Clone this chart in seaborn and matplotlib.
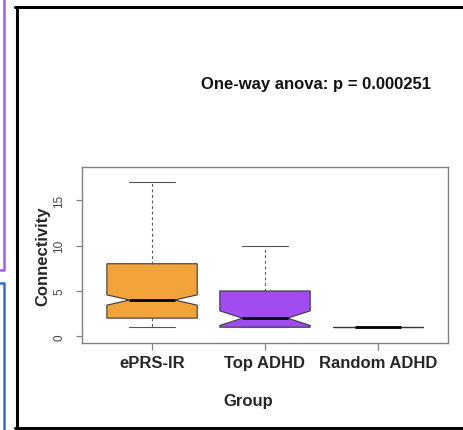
import numpy as np
import pandas as pd
import seaborn as sns
from matplotlib import pyplot as plt
from matplotlib.lines import Line2D

# groups on the x axis
groups = ['ePRS-IR', 'Top ADHD', 'Random ADHD']
box_colors = ['#F2A33A', '#A04CF0', '#BBBBBB']

# connectivity values and how often each occurs, per group
eprs_values = [1, 2, 3, 4, 5, 6, 7, 8, 9, 10, 11, 12, 13, 14, 15, 16, 17]
eprs_counts = [40, 50, 30, 40, 20, 15, 8, 12, 12, 10, 8, 7, 6, 5, 4, 3, 3]
top_values = [1, 2, 3, 4, 5, 6, 7, 8, 9, 10]
top_counts = [20, 14, 6, 5, 4, 3, 3, 2, 2, 2]
random_values = [1]
random_counts = [20]

anova_text = 'One-way anova: p = 0.000251'

W, H = 464, 431


def fx(px):
    return px / W


def fy(py):
    return 1 - py / H


def build_frame():
    rows = []
    for name, vals, cnts in [(groups[0], eprs_values, eprs_counts),
                             (groups[1], top_values, top_counts),
                             (groups[2], random_values, random_counts)]:
        for v in np.repeat(vals, cnts):
            rows.append((name, v))
    return pd.DataFrame(rows, columns=['Group', 'Connectivity'])


def main():
    df = build_frame()

    sns.set_theme(style='white')
    plt.rcParams['font.family'] = ['Liberation Sans', 'DejaVu Sans']

    fig = plt.figure(figsize=(W / 100, H / 100), dpi=100)
    ax = fig.add_axes([fx(82), fy(344), fx(448) - fx(82), fy(168) - fy(344)])

    sns.boxplot(data=df, x='Group', y='Connectivity', hue='Group',
                order=groups, hue_order=groups, palette=box_colors,
                saturation=1, notch=True, width=0.8, whis=1.5, legend=False,
                linecolor='#3a3a3a', linewidth=0.8, showfliers=False,
                whiskerprops=dict(linestyle=(0, (2.5, 2.5)), color='#555555'),
                capprops=dict(color='#555555'),
                medianprops=dict(color='black', linewidth=2.0),
                ax=ax)

    ax.set_xlim(-0.62, 2.62)
    ax.set_ylim(-0.74, 18.67)
    ax.set_yticks([0, 5, 10, 15])

    for s in ax.spines.values():
        s.set_color('#808080')
        s.set_linewidth(1.0)

    ax.tick_params(axis='y', left=True, length=4, width=0.9, color='#808080',
                   labelsize=8.5, labelcolor='#444444', pad=8, labelrotation=90)
    ax.tick_params(axis='x', bottom=True, length=5, width=0.9, color='#808080',
                   labelsize=12, pad=4)
    for lbl in ax.get_yticklabels():
        lbl.set_va('center')
    for lbl in ax.get_xticklabels():
        lbl.set_fontweight('bold')

    ax.set_xlabel('Group', fontsize=12, fontweight='bold')
    ax.set_ylabel('Connectivity', fontsize=12, fontweight='bold')
    ax.xaxis.set_label_coords((248 - 82) / 366, (344 - 394) / 176)
    ax.yaxis.set_label_coords((50 - 82) / 366, 0.5)

    fig.text(fx(316), fy(84), anova_text, fontsize=12, fontweight='bold',
             ha='center', va='center', color='#111111')

    # surrounding panel borders
    fig.add_artist(Line2D([fx(16.5), fx(16.5)], [fy(7.5), fy(429)], color='black', lw=2.2))
    fig.add_artist(Line2D([fx(15.5), fx(464)], [fy(7.5), fy(7.5)], color='black', lw=2.2))
    fig.add_artist(Line2D([fx(15.5), fx(464)], [fy(429), fy(429)], color='black', lw=2.2))
    fig.add_artist(Line2D([fx(4), fx(4), fx(0)], [fy(0), fy(271), fy(271)], color='#A658F4', lw=1.8))
    fig.add_artist(Line2D([fx(0), fx(4), fx(4)], [fy(284), fy(284), fy(431)], color='#2F6FD2', lw=1.8))

    fig.savefig('out.png', dpi=100)


if __name__ == '__main__':
    main()
